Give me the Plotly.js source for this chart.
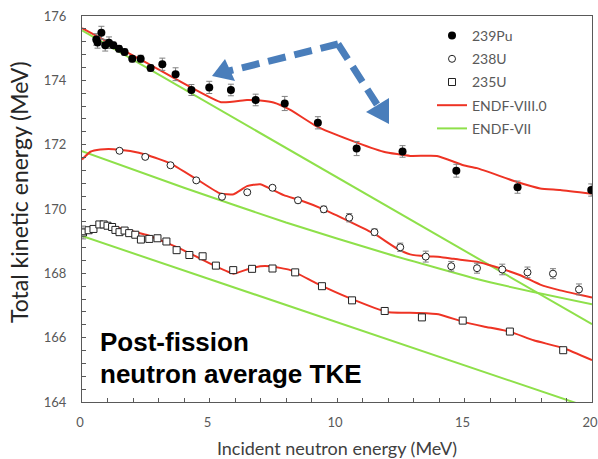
<!DOCTYPE html>
<html>
<head>
<meta charset="utf-8">
<script src="https://cdn.plot.ly/plotly-3.0.1.min.js"></script>
<style>html,body{margin:0;padding:0;background:#fff;}#chart{width:598px;height:459px;}</style>
</head>
<body>
<div id="chart"></div>
<script>
// ---- measured data ----
var puE   = [0.56,0.61,0.76,0.91,1.06,1.23,1.45,1.67,1.97,2.30,2.69,3.15,3.67,4.29,4.99,5.84,6.81,7.95,9.25,10.77,12.57,14.68,17.08,19.97];
var puT   = [175.27,175.18,175.48,175.09,175.17,175.09,174.98,174.88,174.67,174.67,174.38,174.50,174.19,173.70,173.78,173.70,173.39,173.28,172.68,171.88,171.79,171.19,170.68,170.59];
var puErr = [0.18,0.18,0.2,0.18,0.18,0.1,0.1,0.1,0.1,0.11,0.1,0.19,0.2,0.17,0.19,0.18,0.18,0.22,0.19,0.22,0.18,0.2,0.19,0.19];

var u8E   = [1.47,2.48,3.47,4.48,5.49,6.48,7.47,8.47,9.48,10.48,11.47,12.48,13.48,14.48,15.49,16.48,17.47,18.47,19.49];
var u8T   = [171.81,171.62,171.36,170.89,170.38,170.52,170.66,170.27,169.99,169.73,169.28,168.81,168.52,168.22,168.16,168.12,168.03,167.99,167.50];
var u8Err = [0.04,0.04,0.05,0.05,0.05,0.06,0.06,0.08,0.1,0.13,0.1,0.13,0.17,0.15,0.155,0.165,0.165,0.155,0.17];

var u5E   = [0.04,0.26,0.45,0.68,0.85,1.0,1.18,1.31,1.47,1.67,1.85,2.09,2.31,2.64,2.96,3.31,3.71,4.21,4.73,5.25,5.93,6.67,7.47,8.36,9.41,10.59,11.87,13.33,14.93,16.78,18.87];
var u5T   = [169.27,169.34,169.38,169.52,169.52,169.48,169.44,169.35,169.28,169.33,169.25,169.20,169.05,169.07,169.09,168.99,168.72,168.57,168.53,168.24,168.10,168.14,168.15,168.03,167.60,167.16,166.83,166.63,166.53,166.19,165.61];
var u5Err = [0.2,0.06,0.05,0.05,0.05,0.05,0.05,0.05,0.05,0.05,0.05,0.05,0.05,0.05,0.05,0.05,0.05,0.05,0.05,0.05,0.05,0.05,0.05,0.05,0.05,0.05,0.06,0.06,0.06,0.07,0.08];

// ENDF-VIII.0 curves
var r8PuE = [0,2.5,5.45,6.47,6.99,7.51,8.17,9.22,10.52,11.83,12.87,13.92,14.96,15.49,17.06,17.97,18.75,20];
var r8PuT = [175.62,174.56,173.32,173.39,173.37,173.31,173.08,172.56,172.14,171.78,171.65,171.65,171.36,171.27,170.84,170.64,170.59,170.47];
var r8U8E = [0,0.33,0.72,1.24,1.89,2.55,3.46,4.51,5.42,5.95,6.47,6.99,7.91,8.56,9.47,10.52,11.44,12.35,12.87,13.53,14.05,14.57,15.49,16.14,17.19,17.97,18.75,20];
var r8U8T = [171.54,171.78,171.85,171.86,171.80,171.68,171.42,170.92,170.48,170.46,170.71,170.77,170.43,170.27,169.99,169.60,169.24,168.77,168.59,168.53,168.51,168.45,168.36,168.22,167.94,167.65,167.47,167.25];
var r8U5E = [0,0.33,0.72,1.24,2.55,3.85,5.16,5.95,6.47,6.99,7.38,8.17,9.22,10.52,11.96,13.14,13.98,14.96,15.75,16.80,17.71,18.89,20];
var r8U5T = [169.24,169.39,169.50,169.44,169.19,168.77,168.25,167.99,168.12,168.22,168.22,168.10,167.68,167.22,166.80,166.77,166.73,166.49,166.35,166.18,165.92,165.67,165.30];

// ENDF-VII lines
var r7PuE = [0,20];
var r7PuT = [175.55,166.42];
var r7U8E = [0,4,8,12,16,20];
var r7U8T = [171.80,170.66,169.58,168.60,167.72,167.04];
var r7U5E = [0,20];
var r7U5T = [169.16,163.80];

var RED = '#ee3324', GREEN = '#8ee04a';
function curve(x,y,color,name,show,rank,grp){
  return {x:x,y:y,type:'scatter',mode:'lines',name:name,showlegend:show,legendrank:rank,legendgroup:grp,
          line:{color:color,width:2,shape:'spline',smoothing:0.45},hoverinfo:'skip'};
}
var errStyle = function(arr){return {type:'data',array:arr,visible:true,color:'#808080',thickness:1,width:3};};

var traces = [
  curve(r7PuE,r7PuT,GREEN,'ENDF-VII',true,5,'g7'),
  curve(r7U8E,r7U8T,GREEN,'ENDF-VII',false,5,'g7'),
  curve(r7U5E,r7U5T,GREEN,'ENDF-VII',false,5,'g7'),
  curve(r8PuE,r8PuT,RED,'ENDF-VIII.0',true,4,'g8'),
  curve(r8U8E,r8U8T,RED,'ENDF-VIII.0',false,4,'g8'),
  curve(r8U5E,r8U5T,RED,'ENDF-VIII.0',false,4,'g8'),
  {x:u5E,y:u5T,type:'scatter',mode:'markers',name:'235U',legendrank:3,legendgroup:'u5',error_y:errStyle(u5Err),
   marker:{symbol:'square',size:7,color:'#ffffff',line:{color:'#222',width:1}}},
  {x:u8E,y:u8T,type:'scatter',mode:'markers',name:'238U',legendrank:2,legendgroup:'u8',error_y:errStyle(u8Err),
   marker:{symbol:'circle',size:7,color:'#ffffff',line:{color:'#222',width:1}}},
  {x:puE,y:puT,type:'scatter',mode:'markers',name:'239Pu',legendrank:1,legendgroup:'pu',error_y:errStyle(puErr),
   marker:{symbol:'circle',size:8,color:'#000000',line:{width:0}}}
];

// arrow geometry in pixels -> paper coords
var L=82,R=592,T=16,B=402;
function px(x){return (x-L)/(R-L);} function py(y){return (B-y)/(B-T);}
function tri(a,b,c){return 'M '+px(a[0])+' '+py(a[1])+' L '+px(b[0])+' '+py(b[1])+' L '+px(c[0])+' '+py(c[1])+' Z';}
var ABLUE='#4a7ebb';
var shapes = [
  {type:'line',xref:'paper',yref:'paper',x0:px(338),y0:py(44),x1:px(229),y1:py(71),line:{color:ABLUE,width:7,dash:'18px,9px'}},
  {type:'line',xref:'paper',yref:'paper',x0:px(338),y0:py(44),x1:px(378),y1:py(106),line:{color:ABLUE,width:7,dash:'18px,9px'}},
  {type:'path',xref:'paper',yref:'paper',path:tri([212,76],[225,59],[235,81]),fillcolor:ABLUE,line:{width:0}},
  {type:'path',xref:'paper',yref:'paper',path:tri([389,124],[366,112],[389,98]),fillcolor:ABLUE,line:{width:0}}
];

var layout = {
  width:598,height:459,
  margin:{l:L,r:598-R,t:T,b:459-B,pad:0},
  paper_bgcolor:'#ffffff',plot_bgcolor:'#ffffff',
  font:{family:'Lato, "Open Sans", sans-serif',color:'#595959',size:13},
  showlegend:true,
  legend:{x:px(432),y:py(20),xanchor:'left',yanchor:'top',bgcolor:'rgba(0,0,0,0)',
          font:{size:14,color:'#595959'},tracegroupgap:2},
  xaxis:{range:[0,20],dtick:5,tick0:0,ticks:'inside',ticklen:4,tickcolor:'#595959',
         showline:true,linecolor:'#595959',linewidth:1,mirror:true,showgrid:false,zeroline:false,
         minor:{dtick:1,ticks:'inside',ticklen:4,tickcolor:'#595959',showgrid:false},
         ticklabelstandoff:8,ticklabelshift:-2,ticklabeloverflow:'allow',tickfont:{size:13,color:'#595959'},
         title:{text:'Incident neutron energy (MeV)',font:{size:18,color:'#404040'},standoff:15}},
  yaxis:{range:[164,176],dtick:2,tick0:164,ticks:'inside',ticklen:4,tickcolor:'#595959',
         showline:true,linecolor:'#595959',linewidth:1,mirror:true,showgrid:false,zeroline:false,
         minor:{dtick:0.4,ticks:'inside',ticklen:4,tickcolor:'#595959',showgrid:false},
         ticklabelstandoff:12,tickfont:{size:13,color:'#595959'}},
  shapes:shapes,
  annotations:[
    {xref:'paper',yref:'paper',x:px(19),y:py(192),text:'Total kinetic energy (MeV)',textangle:-90,
     showarrow:false,font:{size:23,color:'#262626'},xanchor:'center',yanchor:'middle'},
    {xref:'paper',yref:'paper',x:px(98),y:py(325),xanchor:'left',yanchor:'top',align:'left',
     text:'<b>Post-fission</b>',showarrow:false,
     font:{family:'"Liberation Sans", Arial, sans-serif',size:26,color:'#000000'}},
    {xref:'paper',yref:'paper',x:px(98),y:py(357),xanchor:'left',yanchor:'top',align:'left',
     text:'<b>neutron average TKE</b>',showarrow:false,
     font:{family:'"Liberation Sans", Arial, sans-serif',size:26,color:'#000000'}}
  ]
};
Plotly.newPlot('chart',traces,layout,{displayModeBar:false,staticPlot:true});
</script>
</body>
</html>
